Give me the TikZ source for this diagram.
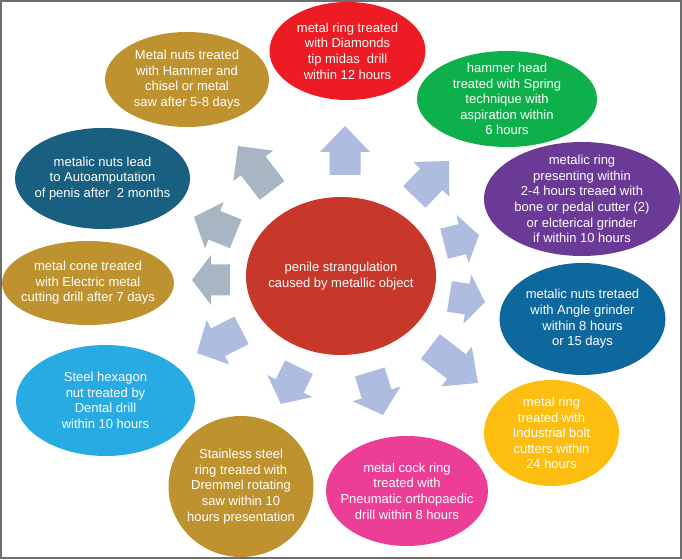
\documentclass[tikz,border=0pt]{standalone}
\usepackage{fontspec}
\setmainfont{Liberation Sans}
\usetikzlibrary{shapes.geometric}
\definecolor{centerred}{HTML}{C8382A}
\definecolor{topred}{HTML}{ED1C24}
\definecolor{leafgreen}{HTML}{0DB04B}
\definecolor{violet}{HTML}{6B3A96}
\definecolor{deepblue}{HTML}{0E689D}
\definecolor{sun}{HTML}{FDBE11}
\definecolor{rose}{HTML}{EC3E96}
\definecolor{gold}{HTML}{BF9230}
\definecolor{sky}{HTML}{28ABE2}
\definecolor{teal}{HTML}{185F80}
\definecolor{arrowblue}{HTML}{AEBCE0}
\definecolor{arrowgray}{HTML}{A8B6C4}
\definecolor{framegray}{HTML}{6E6E6E}
\tikzset{
  bubble/.style={ellipse, draw=none, fill=#1, inner sep=0pt},
  bubtext/.style={text=white, align=center, font=\fontsize{13}{15.6}\selectfont, inner sep=0pt},
}
% tip x, tip y, direction, length, head length, colour
\newcommand\blockarr[6]{%
  \fill[#6, shift={(#1,#2)}, rotate=#3]
    (0,0) -- (-#5,25) -- (-#5,15.5) -- (-#4,15.5) -- (-#4,-15.5) -- (-#5,-15.5) -- (-#5,-25) -- cycle;}
\begin{document}
\begin{tikzpicture}[x=1pt,y=1pt]
\useasboundingbox (0,0) rectangle (682,559);
\fill[white] (0,0) rectangle (682,559);

% outer bubbles
\node[bubble=topred, minimum width=156, minimum height=98,
  label={[bubtext, name=t1]center:metal ring treated\\with Diamonds\\tip midas~ drill\\within 12 hours}] (b1) at (347.5,508) {};
\node[bubble=leafgreen, minimum width=180, minimum height=96,
  label={[bubtext, name=t2]center:hammer head\\treated with Spring\\technique with\\aspiration within\\6 hours}] (b2) at (507,460) {};
\node[bubble=violet, minimum width=196, minimum height=114,
  label={[bubtext, name=t3]center:metalic ring\\presenting within\\2-4 hours treaed with\\bone or pedal cutter (2)\\or elcterical grinder\\if within 10 hours}] (b3) at (582,360) {};
\node[bubble=deepblue, minimum width=166, minimum height=112,
  label={[bubtext, name=t4]center:metalic nuts tretaed\\with Angle grinder\\within 8 hours\\or 15 days}] (b4) at (582.5,240) {};
\node[bubble=sun, minimum width=135, minimum height=106,
  label={[bubtext, name=t5]center:metal ring\\treated with\\Industrial bolt\\cutters within\\24 hours}] (b5) at (551.5,126) {};
\node[bubble=rose, minimum width=162, minimum height=110,
  label={[bubtext, name=t6]center:metal cock ring\\treated with\\Pneumatic orthopaedic\\drill within 8 hours}] (b6) at (407,68) {};
\node[bubble=gold, minimum width=145, minimum height=141,
  label={[bubtext, name=t7]center:Stainless steel\\ring treated with\\Dremmel rotating\\saw within 10\\hours presentation}] (b7) at (241,72.5) {};
\node[bubble=sky, minimum width=179, minimum height=111,
  label={[bubtext, name=t8]center:Steel hexagon\\nut treated by\\Dental drill\\within 10 hours}] (b8) at (105.5,158.5) {};
\node[bubble=gold, minimum width=172, minimum height=84,
  label={[bubtext, name=t9]center:metal cone treated\\with Electric metal\\cutting drill after 7 days}] (b9) at (88,276) {};
\node[bubble=teal, minimum width=175, minimum height=101,
  label={[bubtext, name=t10]center:metalic nuts lead\\to Autoamputation\\of penis after~ 2 months}] (b10) at (102.5,380.5) {};
\node[bubble=gold, minimum width=164, minimum height=95,
  label={[bubtext, name=t11]center:Metal nuts treated\\with Hammer and\\chisel or metal\\saw after 5-8 days}] (b11) at (187,479.5) {};

% centre
\node[bubble=centerred, minimum width=190, minimum height=158,
  label={[bubtext, name=tc, font=\fontsize{13}{16}\selectfont]center:penile strangulation\\caused by metallic object}] (c) at (341,283) {};

% block arrows
\blockarr{345}{433}{90}{49}{26}{arrowblue}
\blockarr{449}{398}{46}{50}{25.5}{arrowblue}
\blockarr{479}{324}{14}{36}{17}{arrowblue}
\blockarr{485}{257}{-9}{36}{18}{arrowblue}
\blockarr{478}{176}{-37.5}{60}{27}{arrowblue}
\blockarr{383}{144}{-73}{45}{22}{arrowblue}
\blockarr{281}{155}{-116}{41}{20}{arrowblue}
\blockarr{197}{206}{-153}{50}{23.6}{arrowblue}
\blockarr{192}{279}{180}{38}{19}{arrowgray}
\blockarr{194}{342}{158}{45}{22}{arrowgray}
\blockarr{238}{413}{127.5}{56}{25}{arrowgray}

% frame
\draw[framegray, line width=1.6pt] (0.8,0.8) rectangle (681.2,558.2);
\end{tikzpicture}
\end{document}
